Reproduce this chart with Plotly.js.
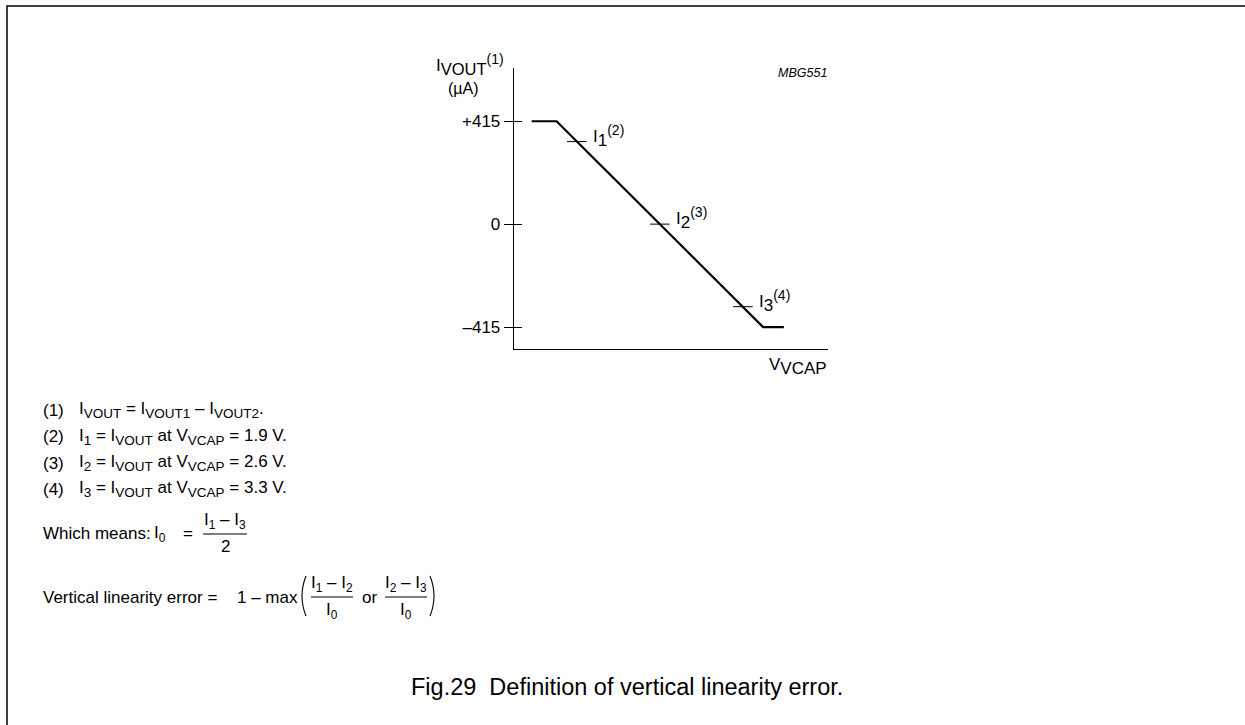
<!DOCTYPE html>
<html><head><meta charset="utf-8">
<script src="https://cdn.plot.ly/plotly-3.0.1.min.js"></script>
<style>html,body{margin:0;padding:0;background:#fff}</style>
</head><body><div id="chart" style="width:1245px;height:725px"></div>
<script>
// ---- data ----
const vcapVolts = [1.52, 1.73, 3.47, 3.645];
const ivoutMicroA = [415, 415, -415, -415];
const markVcap = [1.9, 2.6, 3.3];
const markIvout = [333, 0, -333];
const markIndex = ['1', '2', '3'];
const markNote = ['(2)', '(3)', '(4)'];
const yTickVals = [-415, 0, 415];
const yTickText = ['\u2013415', '0', '+415'];
const yTitleMain = 'I', yTitleSub = 'VOUT', yTitleNote = '(1)', yUnit = '(\u00B5A)';
const xTitleMain = 'V', xTitleSub = 'VCAP';
const figCode = 'MBG551';
const noteNums = ['(1)', '(2)', '(3)', '(4)'];
const noteTexts = [
  'I<sub>VOUT</sub> = I<sub>VOUT1</sub> \u2013 I<sub>VOUT2</sub>.',
  'I<sub>1</sub> = I<sub>VOUT</sub> at V<sub>VCAP</sub> = 1.9 V.',
  'I<sub>2</sub> = I<sub>VOUT</sub> at V<sub>VCAP</sub> = 2.6 V.',
  'I<sub>3</sub> = I<sub>VOUT</sub> at V<sub>VCAP</sub> = 3.3 V.'
];
const titleText = 'Fig.29\u00A0\u00A0Definition of vertical linearity error.';

// ---- layout helpers (pixel -> paper) ----
const W = 1245, H = 725;
const px = x => x / W;
const py = y => 1 - y / H;
const FONT = '"Liberation Sans", Arial, Helvetica, sans-serif';
const FS = 17;
const bigSub = (s, size) => `<sub><span style="font-size:${size}px">${s}</span></sub>`;
const bigSup = (s, size) => `<sup><span style="font-size:${size}px">${s}</span></sup>`;
const resizeSubs = (t, size) => t.replace(/<sub>(.*?)<\/sub>/g, (m, s) => bigSub(s, size));

function txt(x, y, text, size, opts) {
  return Object.assign({
    xref: 'paper', yref: 'paper', x: px(x), y: py(y), text: text,
    showarrow: false, xanchor: 'left', yanchor: 'middle',
    font: {family: FONT, size: size, color: '#000'}
  }, opts || {});
}
function hline(x0, x1, y, w) {
  return {type: 'line', xref: 'paper', yref: 'paper', x0: px(x0), x1: px(x1), y0: py(y), y1: py(y),
          line: {color: '#000', width: w || 1}};
}
function paren(x, y0, y1, dir) {
  const ym = (y0 + y1) / 2;
  const xe = x + (dir < 0 ? 4 : -4);
  const xm = x + (dir < 0 ? -4 : 4);
  return {type: 'path', xref: 'paper', yref: 'paper',
    path: `M ${px(xe)},${py(y0)} Q ${px(xm)},${py(ym)} ${px(xe)},${py(y1)}`,
    line: {color: '#000', width: 1.1}};
}

const annotations = [];
const shapes = [];

// border
shapes.push({type: 'rect', xref: 'paper', yref: 'paper', x0: px(7), x1: px(1265), y0: py(6), y1: py(745),
  line: {color: '#000', width: 1.5}});

// axis titles
annotations.push(txt(434, 64, yTitleMain + bigSub(yTitleSub, FS - 0.5) + bigSup(yTitleNote, 14), FS));
annotations.push(txt(463, 88, yUnit, FS - 1, {xanchor: 'center'}));
annotations.push(txt(829, 366, xTitleMain + bigSub(xTitleSub, FS), FS, {xanchor: 'right'}));
annotations.push(txt(829, 73, '<i>' + figCode + '</i>', 12.5, {xanchor: 'right'}));

// point labels
markIndex.forEach((t, i) => {
  annotations.push({xref: 'x', yref: 'y', x: markVcap[i], y: markIvout[i],
    text: 'I' + bigSub(t, FS) + bigSup(markNote[i], 14), showarrow: false,
    xanchor: 'left', yanchor: 'middle', xshift: 14, yshift: 6, font: {family: FONT, size: FS, color: '#000'}});
});

// notes
const noteY = [410, 436.7, 463.3, 489];
noteTexts.forEach((t, i) => {
  annotations.push(txt(41, noteY[i], noteNums[i], FS));
  annotations.push(txt(77, noteY[i], resizeSubs(t, 13.5), FS));
});

// Which means: I0 = (I1 - I3)/2
annotations.push(txt(41, 533, 'Which means:', FS));
annotations.push(txt(152, 534, 'I<sub>0</sub>', FS));
annotations.push(txt(188, 533, '=', FS, {xanchor: 'center'}));
annotations.push(txt(225, 521, 'I<sub>1</sub> \u2013 I<sub>3</sub>', FS, {xanchor: 'center'}));
shapes.push(hline(203, 247, 534, 1));
annotations.push(txt(225, 546.5, '2', FS, {xanchor: 'center'}));

// Vertical linearity error
annotations.push(txt(41, 597, 'Vertical linearity error =', FS));
annotations.push(txt(235, 597, '1 \u2013 max', FS));
shapes.push(paren(302, 576, 616, -1));
annotations.push(txt(332, 583.5, 'I<sub>1</sub> \u2013 I<sub>2</sub>', FS, {xanchor: 'center'}));
shapes.push(hline(311, 353, 597, 1));
annotations.push(txt(332, 611, 'I<sub>0</sub>', FS, {xanchor: 'center'}));
annotations.push(txt(369, 597, 'or', FS, {xanchor: 'center'}));
annotations.push(txt(406, 583.5, 'I<sub>2</sub> \u2013 I<sub>3</sub>', FS, {xanchor: 'center'}));
shapes.push(hline(385, 427, 597, 1));
annotations.push(txt(406, 611, 'I<sub>0</sub>', FS, {xanchor: 'center'}));
shapes.push(paren(434, 576, 616, 1));

// caption
annotations.push(txt(409, 687, titleText, 23.5, {xanchor: 'left'}));

const traces = [
  {x: vcapVolts, y: ivoutMicroA, mode: 'lines', line: {color: '#000', width: 2.2}, hoverinfo: 'skip', showlegend: false},
  {x: markVcap, y: markIvout, mode: 'markers', marker: {symbol: 'line-ew', size: 14, line: {color: '#000', width: 1}},
   hoverinfo: 'skip', showlegend: false, cliponaxis: false},
  {x: [null], y: [null], yaxis: 'y2', mode: 'markers', hoverinfo: 'skip', showlegend: false}
];

const yRange = [-503.6, 629.8];
const layout = {
  width: W, height: H, autosize: false,
  margin: {l: 0, r: 0, t: 0, b: 0, pad: 0},
  paper_bgcolor: '#fff', plot_bgcolor: '#fff',
  showlegend: false,
  font: {family: FONT, color: '#000'},
  xaxis: {domain: [px(514), px(828)], range: [1.371, 4.017], showline: true, linecolor: '#000', linewidth: 1.3,
    showgrid: false, zeroline: false, ticks: '', showticklabels: false, fixedrange: true},
  yaxis: {domain: [py(349), py(68)], range: yRange, showline: true, linecolor: '#000', linewidth: 1.3,
    showgrid: false, zeroline: false, ticks: 'outside', ticklen: 9, tickwidth: 1, tickcolor: '#000',
    tickmode: 'array', tickvals: yTickVals, ticktext: yTickText, ticklabelstandoff: 0,
    tickfont: {family: FONT, size: FS, color: '#000'}, fixedrange: true},
  yaxis2: {overlaying: 'y', range: yRange, showline: false, showgrid: false, zeroline: false,
    ticks: 'inside', ticklen: 8, tickwidth: 1, tickcolor: '#000', tickmode: 'array', tickvals: yTickVals,
    showticklabels: false, fixedrange: true},
  annotations: annotations,
  shapes: shapes
};

Plotly.newPlot('chart', traces, layout, {displayModeBar: false, staticPlot: true});
</script>
</body></html>
